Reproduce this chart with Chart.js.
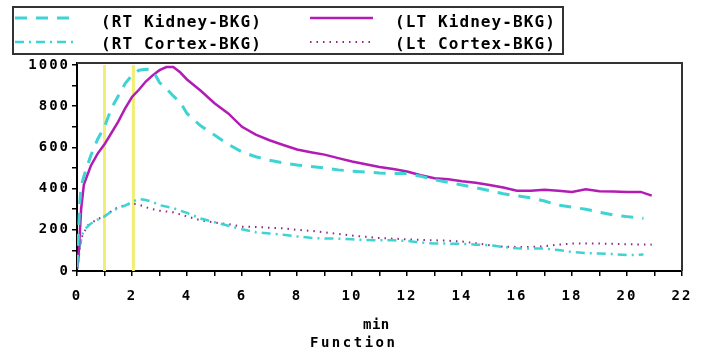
<!DOCTYPE html>
<html>
<head>
<meta charset="utf-8">
<script src="https://cdn.jsdelivr.net/npm/chart.js@4/dist/chart.umd.min.js"></script>
<style>
  html,body{margin:0;padding:0;background:#fff;}
  #wrap{width:709px;height:351px;position:relative;}
</style>
</head>
<body>
<div id="wrap"><canvas id="c" width="709" height="351"></canvas></div>
<script>
// ---- data ----
const rtKidneyT = [0,0.05,0.1,0.15,0.25,0.5,0.75,1,1.25,1.5,1.75,2,2.25,2.5,2.75,3,3.25,3.5,3.75,4,4.5,5,5.5,6,6.5,7,7.5,8,8.5,9,9.5,10,10.5,11,11.5,12,12.5,13,13.5,14,14.5,15,15.5,16,16.5,17,17.5,18,18.5,19,19.5,20,20.6];
const rtKidneyV = [20,170,330,410,460,560,640,700,790,850,910,950,975,980,975,915,885,850,820,765,705,660,615,578,555,538,525,515,507,500,491,485,481,476,473,473,460,443,430,418,405,390,375,365,355,340,320,310,300,285,272,264,256];

const ltKidneyT = [0,0.05,0.1,0.15,0.25,0.5,0.75,1,1.25,1.5,1.75,2,2.25,2.5,2.75,3,3.25,3.5,3.75,4,4.5,5,5.5,6,6.5,7,7.5,8,8.5,9,9.5,10,10.5,11,11.5,12,12.5,13,13.5,14,14.5,15,15.5,16,16.5,17,17.5,18,18.5,19,19.5,20,20.5,20.9];
const ltKidneyV = [10,60,180,300,420,510,570,615,670,725,790,845,880,920,950,975,990,990,965,930,875,815,765,700,662,635,612,590,577,565,548,532,518,505,495,483,465,450,446,436,428,418,405,390,390,394,390,384,397,387,386,384,384,366];

const rtCortexT = [0,0.05,0.1,0.2,0.3,0.5,0.75,1,1.25,1.5,1.75,2,2.25,2.5,2.75,3,3.5,4,4.5,5,5.5,6,6.5,7,7.5,8,8.5,9,9.5,10,10.5,11,11.5,12,12.5,13,13.5,14,14.5,15,15.5,16,16.5,17,17.5,18,18.5,19,19.5,20,20.6];
const rtCortexV = [10,50,120,180,205,230,250,265,290,305,318,335,350,345,335,320,305,282,255,237,220,203,188,182,176,168,161,158,157,154,150,149,149,146,138,133,133,132,128,125,117,110,109,109,102,92,87,85,82,77,80];

const ltCortexT = [0,0.05,0.1,0.2,0.4,0.6,0.8,1,1.25,1.5,1.75,2,2.25,2.5,2.75,3,3.5,4,4.5,5,5.5,6,6.5,7,7.5,8,8.5,9,9.5,10,10.5,11,11.5,12,12.5,13,13.5,14,14.5,15,15.5,16,16.5,17,17.5,18,18.5,19,19.5,20,20.5,20.9];
const ltCortexV = [10,60,110,175,222,240,255,265,290,310,320,328,322,310,300,293,285,265,246,235,228,215,214,210,207,200,195,188,180,172,166,160,157,154,151,149,147,143,135,125,118,117,117,120,128,133,133,133,132,130,129,128];

const seriesLabels = ['(RT Kidney-BKG)', '(LT Kidney-BKG)', '(RT Cortex-BKG)', '(Lt Cortex-BKG)'];
const markerTimes = [1.0, 2.05];
const xTickLabels = [0,2,4,6,8,10,12,14,16,18,20,22];
const yTickLabels = [0,200,400,600,800,1000];
const xTitle = 'min';
const xSubTitle = 'Function';

const pts = (t, v) => t.map((x, i) => ({x: x, y: v[i]}));

const CYAN = '#3fd3d3';
const MAG = '#b21cb4';
const MAGDOT = '#8e2a80';
const MONO = '"DejaVu Sans Mono", "Liberation Mono", monospace';

const frameAndExtras = {
  id: 'frameAndExtras',
  beforeDraw(chart) {
    chart.ctx.letterSpacing = '2px';
  },
  beforeDatasetsDraw(chart) {
    const {ctx, scales:{x, y}} = chart;
    ctx.save();
    ctx.letterSpacing = '0px';
    ctx.strokeStyle = '#f2ee72';
    ctx.lineWidth = 3;
    markerTimes.forEach(t => {
      const px = x.getPixelForValue(t);
      ctx.beginPath();
      ctx.moveTo(px, y.getPixelForValue(0));
      ctx.lineTo(px, y.getPixelForValue(1000));
      ctx.stroke();
    });
    ctx.restore();
  },
  afterDraw(chart) {
    const {ctx, chartArea:a} = chart;
    ctx.save();
    // top & right frame
    ctx.strokeStyle = '#333';
    ctx.lineWidth = 2;
    ctx.beginPath();
    ctx.moveTo(a.left, a.top);
    ctx.lineTo(a.right, a.top);
    ctx.lineTo(a.right, a.bottom);
    ctx.stroke();

    // axis title lines
    ctx.fillStyle = '#000';
    ctx.font = 'bold 14px ' + MONO;
    ctx.textBaseline = 'middle';
    ctx.textAlign = 'left';
    ctx.letterSpacing = '0.5px';
    ctx.fillText(xTitle, 363, 325);
    ctx.letterSpacing = '2.5px';
    ctx.fillText(xSubTitle, 310, 343);

    // legend box
    ctx.letterSpacing = '0px';
    ctx.strokeStyle = '#333';
    ctx.lineWidth = 2;
    ctx.strokeRect(13, 7, 550, 47);
    const slots = [
      {ds:0, lx:15, tx:101, y:18, ty:23},
      {ds:1, lx:310, tx:395, y:18, ty:23},
      {ds:2, lx:15, tx:101, y:42, ty:45},
      {ds:3, lx:310, tx:395, y:42, ty:45}
    ];
    slots.forEach(s => {
      const d = chart.data.datasets[s.ds];
      ctx.save();
      ctx.strokeStyle = d.borderColor;
      ctx.lineWidth = d.borderWidth;
      ctx.setLineDash(d.borderDash || []);
      ctx.beginPath();
      ctx.moveTo(s.lx, s.y);
      ctx.lineTo(s.lx + 63, s.y);
      ctx.stroke();
      ctx.restore();
      ctx.fillStyle = '#000';
      ctx.font = 'bold 16px ' + MONO;
      ctx.letterSpacing = '1.1px';
      ctx.textBaseline = 'middle';
      ctx.textAlign = 'left';
      ctx.fillText(d.label, s.tx, s.ty);
    });
    ctx.restore();
  }
};

new Chart(document.getElementById('c'), {
  type: 'line',
  data: {
    datasets: [
      {label: seriesLabels[0], data: pts(rtKidneyT, rtKidneyV), borderColor: CYAN, borderWidth: 3, borderDash: [12, 9], order: 1},
      {label: seriesLabels[1], data: pts(ltKidneyT, ltKidneyV), borderColor: MAG, borderWidth: 2.5, order: 2},
      {label: seriesLabels[2], data: pts(rtCortexT, rtCortexV), borderColor: CYAN, borderWidth: 2.5, borderDash: [9, 5, 2, 5], order: 3},
      {label: seriesLabels[3], data: pts(ltCortexT, ltCortexV), borderColor: MAGDOT, borderWidth: 2, borderDash: [1.5, 5], order: 4}
    ]
  },
  options: {
    responsive: false,
    animation: false,
    devicePixelRatio: 1,
    layout: {padding: {top: 63, right: 27, left: 0, bottom: 0}},
    elements: {point: {radius: 0}, line: {tension: 0}},
    plugins: {legend: {display: false}, tooltip: {enabled: false}},
    scales: {
      x: {
        type: 'linear', min: 0, max: 22,
        afterBuildTicks: s => { const t = []; for (let i = 0; i <= 22; i++) t.push({value: i}); s.ticks = t; },
        afterFit: s => { s.height = 80; },
        ticks: {
          autoSkip: false, maxRotation: 0, padding: 12, color: '#000',
          font: {family: MONO, size: 14, weight: 'bold'},
          callback: v => xTickLabels.includes(v) ? String(v) : ''
        },
        grid: {drawOnChartArea: false, drawTicks: true, tickLength: 5, color: '#000', lineWidth: 1.5},
        border: {color: '#000', width: 2}
      },
      y: {
        min: 0, max: 1010,
        afterBuildTicks: s => { const t = []; for (let i = 0; i <= 1000; i += 100) t.push({value: i}); s.ticks = t; },
        afterFit: s => { s.width = 77; },
        ticks: {
          autoSkip: false, padding: 2, color: '#000',
          font: {family: MONO, size: 14, weight: 'bold'},
          callback: v => yTickLabels.includes(v) ? String(v) : ''
        },
        grid: {drawOnChartArea: false, drawTicks: true, tickLength: 5, color: '#000', lineWidth: 1.5},
        border: {color: '#000', width: 2}
      }
    }
  },
  plugins: [frameAndExtras]
});
</script>
</body>
</html>
